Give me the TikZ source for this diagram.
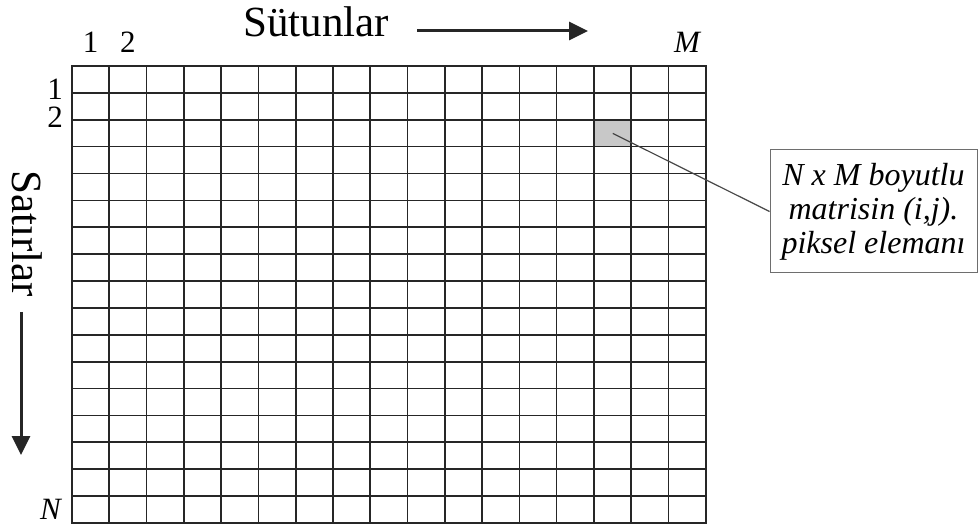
\documentclass[tikz,border=0pt]{standalone}
\usepackage{fontspec}
\setmainfont{Liberation Serif}
\usetikzlibrary{positioning,arrows.meta}
\definecolor{ink}{HTML}{262626}
\definecolor{shade}{HTML}{C8C8C8}
\definecolor{frame}{HTML}{6E6E6E}

\newcommand{\colw}{37.28}
\newcommand{\rowh}{26.88}

\begin{document}
\begin{tikzpicture}[x=1pt, y=-1pt,
  % y grows downwards here, so every position reads like the source image
  gridline/.style = {draw=ink, line width=1.7pt, line cap=rect},
  axis/.style     = {font=\fontsize{43}{46}\selectfont, inner sep=0pt},
  idx/.style      = {font=\fontsize{31}{33}\selectfont, inner sep=0pt},
  hop/.style      = {-{Triangle[length=19pt, width=18pt]}, line width=3pt, draw=ink},
  % the callout box sits right at the page edge, as in the source
  note/.style     = {draw=frame, line width=1pt, align=center,
                     font=\fontsize{32}{34}\selectfont\itshape,
                     minimum width=207pt, minimum height=123pt, inner sep=2pt},
  lead/.style     = {draw=ink!85, line width=1.2pt},
]
\useasboundingbox (0,0) rectangle (979,526);

% ------------------------------------------------------------ the pixel --
\node[fill=shade, inner sep=0pt, anchor=north west,
      minimum width=\colw pt, minimum height=\rowh pt]
      (pix) at ({72+14*\colw},{66+2*\rowh}) {};

% ------------------------------------------------------------- the grid --
\foreach \i in {0,...,17}
  \draw[gridline] ({72+\i*\colw},66) -- ({72+\i*\colw},523);
\foreach \j in {0,...,17}
  \draw[gridline] (72,{66+\j*\rowh}) -- ({72+17*\colw},{66+\j*\rowh});

% --------------------------------------------------------------- titles --
\node[axis, anchor=base] (sut) at (316,37) {Sütunlar};
\coordinate (sutA) at (417,31);
\coordinate (sutB) at (588,31);
\draw[hop] (sutA) -- (sutB);

\node[axis, rotate=-90] (sat) at (27,234) {Satırlar};
\coordinate (satA) at (21,312);
\coordinate (satB) at (21,455);
\draw[hop] (satA) -- (satB);

% -------------------------------------------------------------- indices --
\node[idx, anchor=base] (c1) at ({72+0.5*\colw},53) {1};
\node[idx, anchor=base] (c2) at ({72+1.5*\colw},53) {2};
\node[idx, anchor=base] (cM) at ({72+16.5*\colw},53) {\itshape M};
\node[idx, anchor=base east] (r1) at (63,100) {1};
\node[idx, anchor=base east] (r2) at (63,128) {2};
\node[idx, anchor=base east] (rN) at (61,519) {\itshape N};

% -------------------------------------------------------------- callout --
\node[note] (desc) at (873.5,211.5) {N x M boyutlu\\matrisin (i,j).\\piksel elemanı};
\draw[lead] (pix.center) -- (desc.west);

\end{tikzpicture}
\end{document}
